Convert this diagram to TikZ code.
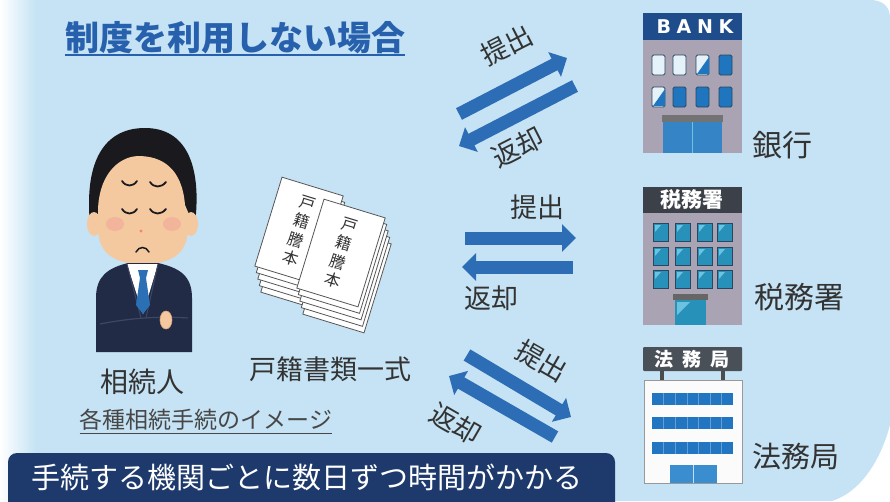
\documentclass[tikz,border=0pt]{standalone}
\usepackage{fontspec}
\setmainfont{Noto Sans CJK JP}
\newfontfamily\signfont[LetterSpace=30]{DejaVu Sans}
\usetikzlibrary{arrows.meta}

\definecolor{bgblue}{HTML}{C5E3F4}
\definecolor{titleblue}{HTML}{2760AC}
\definecolor{arrowblue}{HTML}{2D6DB5}
\definecolor{navy}{HTML}{1E3A6D}
\definecolor{labelgray}{HTML}{333333}
\definecolor{suit}{HTML}{222B45}
\definecolor{suitline}{HTML}{3C4766}
\definecolor{hair}{HTML}{1A1A1E}
\definecolor{skin}{HTML}{F5C9A0}
\definecolor{skinline}{HTML}{D6A37C}
\definecolor{cheek}{HTML}{F2A39A}
\definecolor{tie}{HTML}{2B6FB5}
\definecolor{wall}{HTML}{A9A3B3}
\definecolor{banksign}{HTML}{1F4C8A}
\definecolor{winblue}{HTML}{1F76BF}
\definecolor{winpale}{HTML}{E6F2FA}
\definecolor{winedge}{HTML}{2A4660}
\definecolor{taxsign}{HTML}{3B4049}
\definecolor{teal}{HTML}{2891BA}
\definecolor{tealhi}{HTML}{6CC3E0}
\definecolor{lawsign}{HTML}{4A5058}
\definecolor{lawblue}{HTML}{2275C0}
\definecolor{doorblue}{HTML}{3A8ED0}
\definecolor{papergray}{HTML}{555555}

\tikzset{
  lbl/.style={inner sep=0pt, text=labelgray, font=\fontsize{28}{32}\selectfont},
  arrowlbl/.style={inner sep=0pt, text=labelgray, font=\fontsize{27}{30}\selectfont},
  blockarrow/.style={draw=arrowblue, line width=13pt,
    -{Triangle[length=14pt,width=27pt]}},
  sheet/.style={draw=papergray, fill=white, line width=0.8pt,
    minimum width=64pt, minimum height=93pt, rotate=-17, inner sep=0pt},
  sheettext/.style={align=center, text=labelgray,
    font=\fontsize{16}{19.5}\selectfont},
  winW/.style={fill=winpale, draw=winedge, line width=0.9pt, rounded corners=1.5pt},
  winB/.style={fill=winblue, draw=winedge, line width=0.9pt, rounded corners=1.5pt},
  taxwin/.style={fill=teal, draw=winedge, line width=0.9pt},
}

\begin{document}
\begin{tikzpicture}[x=1pt, y=-1pt]
\useasboundingbox (0,0) rectangle (890,501);

% ---- background panel ----
\fill[white] (0,0) rectangle (890,501);
\fill[bgblue] (0,0) -- (870,0) .. controls (882,0) and (890,6) .. (890,18)
  -- (890,425) .. controls (880,462) and (860,492) .. (832,501) -- (0,501) -- cycle;
\shade[left color=white, right color=bgblue] (0,0) rectangle (36,501);

% ---- title ----
\node[inner sep=0pt, text=titleblue, font=\fontsize{34}{40}\selectfont\bfseries]
  (title) at (235,38) {制度を利用しない場合};
\draw[titleblue, line width=2pt] ([yshift=-1pt]title.south west) -- ([yshift=-1pt]title.south east);

% ---- heir (person) ----
\fill[hair] (90,224) .. controls (84,160) and (105,128) .. (145,128)
  .. controls (186,128) and (202,165) .. (195,224) -- cycle;
\fill[skin] (94,224) ellipse [x radius=7, y radius=12];
\fill[skin] (191,224) ellipse [x radius=7, y radius=12];
\fill[skin] (98,212) .. controls (98,178) and (116,157) .. (138,156)
  .. controls (162,156) and (182,168) .. (185,205) -- (188,212) -- (188,228)
  .. controls (188,256) and (168,264) .. (143,264)
  .. controls (118,264) and (98,256) .. (98,228) -- cycle;
\fill[cheek, opacity=0.55] (115,224) ellipse [x radius=9, y radius=7];
\fill[cheek, opacity=0.55] (172,224) ellipse [x radius=9, y radius=7];
\begin{scope}[draw=hair, line width=1.8pt, line cap=round]
  \draw (122,181) .. controls (126,187) and (133,187) .. (137,181);
  \draw (150,182) .. controls (154,188) and (161,188) .. (166,182);
  \draw (122,209) .. controls (126,215) and (133,215) .. (137,209);
  \draw (150,209) .. controls (154,215) and (161,215) .. (166,209);
  \draw[line width=1.5pt] (136,252) .. controls (139,246) and (146,246) .. (149,252);
\end{scope}
\fill[cheek!80!red] (141,231) circle (1.6);
% suit
\fill[suit] (96,352) -- (96,298) .. controls (96,276) and (108,268) .. (128,263)
  -- (158,263) .. controls (180,268) and (192,276) .. (192,298) -- (192,352) -- cycle;
\fill[white] (127,264) -- (158,264) -- (143,314) -- cycle;
\draw[suitline, line width=1pt] (127,264) -- (141,318) (158,264) -- (146,318);
\fill[tie] (138,270) -- (148,270) -- (146,278) -- (150,305) -- (143,314)
  -- (136,305) -- (140,278) -- cycle;
\draw[suitline, line width=1.2pt] (100,324) .. controls (130,318) and (160,316) .. (188,318);
\filldraw[fill=skin, draw=skinline, line width=0.6pt] (166,320) ellipse [x radius=6, y radius=9];
\node[lbl] (heir) at (142,382) {相続人};

% ---- family register documents ----
\foreach \k in {4,3,2,1}
  \node[sheet] (lp\k) at ({299+1.5*\k},{231+6.5*\k}) {};
\node[sheet, sheettext] (lp0) at (299,231) {戸\\籍\\謄\\本};
\foreach \k in {4,3,2,1}
  \node[sheet] (rp\k) at ({341+1.5*\k},{253+6.5*\k}) {};
\node[sheet, sheettext] (rp0) at (341,253) {戸\\籍\\謄\\本};
\node[lbl, font=\fontsize{27}{30}\selectfont] (docs) at (330,369) {戸籍書類一式};

\node[inner sep=0pt, text=labelgray!90, font=\fontsize{23}{26}\selectfont] (caption) at (206,420) {各種相続手続のイメージ};
\draw[labelgray!90, line width=1pt] ([yshift=-3pt]caption.south west) -- ([yshift=-3pt]caption.south east);

% ---- bottom banner ----
\node[fill=navy, rounded corners=9pt, minimum width=607pt, minimum height=60pt,
  inner sep=0pt] (banner) at (311.5,483) {};
\node[inner sep=0pt, text=white, font=\fontsize{29}{32}\selectfont] (bannertext) at (307,477)
  {手続する機関ごとに数日ずつ時間がかかる};

% ---- bank ----
\fill[wall] (643,38) rectangle (742,153);
\fill[banksign] (643,13) rectangle (742,40);
\node[inner sep=0pt, text=white, font=\signfont\bfseries\fontsize{19}{22}\selectfont] (banksign) at (695,27) {BANK};
\foreach \x/\s in {652/winW,673/winW,696/winW,719/winB}
  \draw[\s] (\x,55) rectangle ++(13,20);
\fill[winblue] (709,57) -- (709,74) -- (697,74) -- cycle;
\foreach \x/\s in {652/winW,673/winB,696/winB,719/winB}
  \draw[\s] (\x,87) rectangle ++(13,20);
\fill[winblue] (665,89) -- (665,106) -- (653,106) -- cycle;
\fill[black!55] (662,115) rectangle (723,122);
\fill[winblue!90!white] (663,122) rectangle (722,153);
\draw[tealhi, line width=1pt] (692.5,122) -- (692.5,153);
\node[lbl, font=\fontsize{30}{34}\selectfont] (bank) at (782,145) {銀行};

% ---- tax office ----
\fill[wall] (643,211) rectangle (742,325);
\fill[taxsign] (643,187) rectangle (742,213);
\node[inner sep=0pt, text=white, font=\fontsize{21}{23}\selectfont\bfseries] (taxsign) at (692,200) {税務署};
\foreach \y in {223,247,270}
  \foreach \x in {653,675,697,717} {
    \draw[taxwin] (\x,\y) rectangle ++(15,18);
    \fill[tealhi] (\x+2,\y+2) -- (\x+8,\y+2) -- (\x+2,\y+9) -- cycle;
  }
\fill[black!60] (673,294) rectangle (708,300);
\fill[teal] (675,300) rectangle (706,325);
\fill[tealhi] (677,302) -- (690,302) -- (677,315) -- cycle;
\node[lbl, font=\fontsize{30}{34}\selectfont] (tax) at (799,297) {税務署};

% ---- legal affairs bureau ----
\fill[lawsign, rounded corners=1pt] (643,347) rectangle (742,371);
\node[inner sep=0pt, text=white, font=\fontsize{19}{21}\selectfont\bfseries] (lawsign) at (692,359) {法\hspace{9pt}務\hspace{9pt}局};
\fill[black!70] (660,371) rectangle (664,381);
\fill[black!70] (721,371) rectangle (725,381);
\filldraw[fill=white!97!gray, draw=gray!80, line width=1pt] (644,380) rectangle (742,483);
\foreach \y in {393,417,442} {
  \fill[lawblue] (652,\y) rectangle (733,\y+12);
  \foreach \x in {663,675,687,698,710,721}
    \draw[lawblue!70!white, line width=0.6pt] (\x,\y) -- (\x,\y+12);
}
\fill[doorblue] (670,465) rectangle (717,483);
\draw[white!70!doorblue, line width=0.8pt] (693.5,465) -- (693.5,483);
\node[lbl, font=\fontsize{29}{32}\selectfont] (law) at (796,456) {法務局};

% ---- submission / return arrows ----
\coordinate (bankOutS) at (459,114);  \coordinate (bankOutE) at (567,58);
\coordinate (bankInS)  at (575,86);   \coordinate (bankInE)  at (459,146);
\draw[blockarrow] (bankOutS) -- (bankOutE);
\draw[blockarrow] (bankInS) -- (bankInE);
\node[arrowlbl, rotate=27] (bankOutLbl) at (507,45) {提出};
\node[arrowlbl, rotate=27] (bankInLbl) at (518,147) {返却};

\coordinate (taxOutS) at (465,238);   \coordinate (taxOutE) at (576,238);
\coordinate (taxInS)  at (573,267);   \coordinate (taxInE)  at (462,267);
\draw[blockarrow] (taxOutS) -- (taxOutE);
\draw[blockarrow] (taxInS) -- (taxInE);
\node[arrowlbl] (taxOutLbl) at (537,207) {提出};
\node[arrowlbl] (taxInLbl) at (491,298) {返却};

\coordinate (lawOutS) at (467,355);   \coordinate (lawOutE) at (571,417);
\coordinate (lawInS)  at (555,437);   \coordinate (lawInE)  at (449,376);
\draw[blockarrow] (lawOutS) -- (lawOutE);
\draw[blockarrow] (lawInS) -- (lawInE);
\node[arrowlbl, rotate=-30] (lawOutLbl) at (542,361) {提出};
\node[arrowlbl, rotate=-30] (lawInLbl) at (456,424) {返却};
\end{tikzpicture}
\end{document}
